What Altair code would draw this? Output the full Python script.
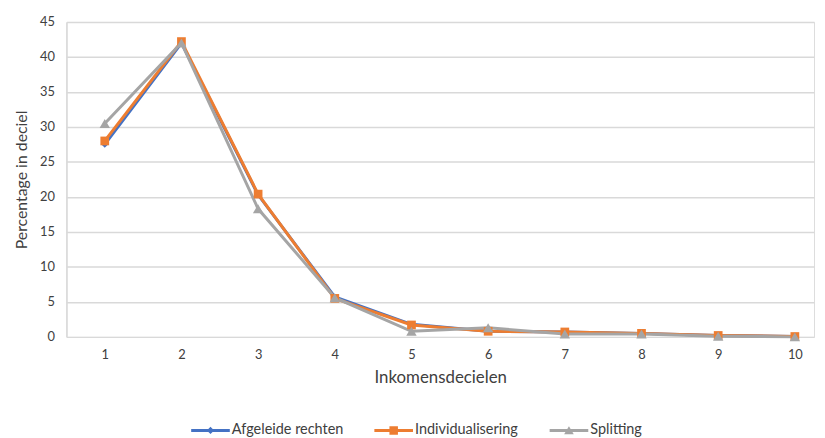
import altair as alt
import pandas as pd

deciles = [1, 2, 3, 4, 5, 6, 7, 8, 9, 10]
series_names = ["Afgeleide rechten", "Individualisering", "Splitting"]
afgeleide = [27.5, 42.0, 20.3, 5.7, 1.8, 0.8, 0.7, 0.5, 0.2, 0.05]
individualisering = [28.0, 42.2, 20.4, 5.5, 1.7, 0.8, 0.7, 0.5, 0.2, 0.05]
splitting = [30.5, 42.0, 18.3, 5.6, 0.8, 1.3, 0.4, 0.4, 0.1, 0.0]
colors = ["#4472C4", "#ED7D31", "#A5A5A5"]
shapes = ["diamond", "square", "triangle-up"]
sizes = [45, 110, 110]
legend_x = [126, 311, 488]

# legend symbols: line segment with the marker in the middle (unit square paths)
LINE = "M-1,-0.075L1,-0.075L1,0.075L-1,0.075Z"
legend_shapes = [
    LINE + "M0,-0.19L0.19,0L0,0.19L-0.19,0Z",
    LINE + "M-0.22,-0.22L0.22,-0.22L0.22,0.22L-0.22,0.22Z",
    LINE + "M0,-0.22L0.25,0.2L-0.25,0.2Z",
]

rows = []
for k, (name, vals) in enumerate(zip(series_names, [afgeleide, individualisering, splitting])):
    for d, v in zip(deciles, vals):
        rows.append({"deciel": d, "pct": v, "serie": name, "order": k})
df = pd.DataFrame(rows)

FONT = "Lato"
TXT = "#404040"

x = alt.X("deciel:Q", title="Inkomensdecielen",
          scale=alt.Scale(domain=[0.5, 10.25], nice=False, zero=False),
          axis=alt.Axis(values=deciles, grid=False, ticks=False, domain=False,
                        labelPadding=12, titlePadding=8, labelFontSize=13,
                        titleFontSize=17, labelColor=TXT, titleColor=TXT,
                        titleFontWeight="normal", labelFont=FONT, titleFont=FONT))
y = alt.Y("pct:Q", title="Percentage in deciel",
          scale=alt.Scale(domain=[0, 45], nice=False),
          axis=alt.Axis(values=list(range(0, 50, 5)), ticks=False, domain=True,
                        domainColor="#D9D9D9", domainWidth=1.5,
                        gridColor="#D9D9D9", gridWidth=1.5,
                        labelPadding=12, titlePadding=10, labelFontSize=13,
                        titleFontSize=16, labelColor=TXT, titleColor=TXT,
                        titleFontWeight="normal", labelFont=FONT, titleFont=FONT))

color_nolegend = alt.Color("serie:N", scale=alt.Scale(domain=series_names, range=colors), legend=None)

lines = alt.Chart(df).mark_line(strokeWidth=3).encode(
    x=x, y=y, color=color_nolegend, detail="serie:N", order=alt.Order("order:Q"))
points = alt.Chart(df).mark_point(filled=True, opacity=1).encode(
    x=x, y=y, color=color_nolegend,
    shape=alt.Shape("serie:N", scale=alt.Scale(domain=series_names, range=shapes), legend=None),
    size=alt.Size("serie:N", scale=alt.Scale(domain=series_names, range=sizes), legend=None),
    order=alt.Order("order:Q"))

legend_layers = []
for name, col, path, lx in zip(series_names, colors, legend_shapes, legend_x):
    lg = alt.Legend(title=None, orient="none", direction="horizontal",
                    legendX=lx, legendY=393, labelFontSize=14.6,
                    labelColor=TXT, labelFont=FONT,
                    symbolSize=1521, symbolStrokeWidth=0, labelOffset=2,
                    symbolOpacity=1, symbolFillColor=col)
    legend_layers.append(
        alt.Chart(df).transform_filter("false")
        .mark_point(filled=True, opacity=1, color=col)
        .encode(x=x, y=y,
                shape=alt.Shape("serie:N", scale=alt.Scale(domain=[name], range=[path]), legend=lg))
    )

chart = alt.layer(lines, points, *legend_layers).resolve_scale(
    shape="independent"
).properties(
    width=755, height=318,
    autosize=alt.AutoSizeParams(type="none"),
    padding={"left": 59, "top": 12, "right": 3, "bottom": 100},
).configure_view(stroke=None).configure(background="white")

chart.save("out.html", embed_options={"renderer": "svg", "actions": False})
